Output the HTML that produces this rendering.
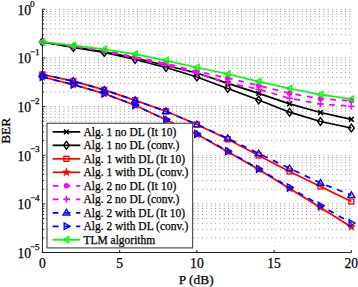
<!DOCTYPE html>
<html><head><meta charset="utf-8"><style>
html,body{margin:0;padding:0;background:#fff;}
svg{display:block;}
text{font-family:"Liberation Serif",serif;fill:#000;stroke:#000;stroke-width:0.25px;}
.tk{font-size:13.6px;}
.sup{font-size:9.2px;}
.lb{font-size:13.4px;}
.lg{font-size:11.5px;}
</style></head><body>
<svg width="358" height="287" viewBox="0 0 358 287">
<rect width="358" height="287" fill="#fff"/>
<line x1="42.45" y1="237.86" x2="351.35" y2="237.86" stroke="#8a8a8a" stroke-width="0.9" stroke-dasharray="1 3.332" stroke-dashoffset="0.7"/>
<line x1="42.45" y1="229.29" x2="351.35" y2="229.29" stroke="#8a8a8a" stroke-width="0.9" stroke-dasharray="1 3.332" stroke-dashoffset="0.7"/>
<line x1="42.45" y1="223.22" x2="351.35" y2="223.22" stroke="#8a8a8a" stroke-width="0.9" stroke-dasharray="1 3.332" stroke-dashoffset="0.7"/>
<line x1="42.45" y1="218.50" x2="351.35" y2="218.50" stroke="#8a8a8a" stroke-width="0.9" stroke-dasharray="1 3.332" stroke-dashoffset="0.7"/>
<line x1="42.45" y1="214.65" x2="351.35" y2="214.65" stroke="#8a8a8a" stroke-width="0.9" stroke-dasharray="1 3.332" stroke-dashoffset="0.7"/>
<line x1="42.45" y1="211.39" x2="351.35" y2="211.39" stroke="#8a8a8a" stroke-width="0.9" stroke-dasharray="1 3.332" stroke-dashoffset="0.7"/>
<line x1="42.45" y1="208.57" x2="351.35" y2="208.57" stroke="#8a8a8a" stroke-width="0.9" stroke-dasharray="1 3.332" stroke-dashoffset="0.7"/>
<line x1="42.45" y1="206.09" x2="351.35" y2="206.09" stroke="#8a8a8a" stroke-width="0.9" stroke-dasharray="1 3.332" stroke-dashoffset="0.7"/>
<line x1="42.45" y1="203.86" x2="351.35" y2="203.86" stroke="#8a8a8a" stroke-width="0.9" stroke-dasharray="1 3.332" stroke-dashoffset="0.7"/>
<line x1="42.45" y1="189.22" x2="351.35" y2="189.22" stroke="#8a8a8a" stroke-width="0.9" stroke-dasharray="1 3.332" stroke-dashoffset="0.7"/>
<line x1="42.45" y1="180.65" x2="351.35" y2="180.65" stroke="#8a8a8a" stroke-width="0.9" stroke-dasharray="1 3.332" stroke-dashoffset="0.7"/>
<line x1="42.45" y1="174.58" x2="351.35" y2="174.58" stroke="#8a8a8a" stroke-width="0.9" stroke-dasharray="1 3.332" stroke-dashoffset="0.7"/>
<line x1="42.45" y1="169.86" x2="351.35" y2="169.86" stroke="#8a8a8a" stroke-width="0.9" stroke-dasharray="1 3.332" stroke-dashoffset="0.7"/>
<line x1="42.45" y1="166.01" x2="351.35" y2="166.01" stroke="#8a8a8a" stroke-width="0.9" stroke-dasharray="1 3.332" stroke-dashoffset="0.7"/>
<line x1="42.45" y1="162.75" x2="351.35" y2="162.75" stroke="#8a8a8a" stroke-width="0.9" stroke-dasharray="1 3.332" stroke-dashoffset="0.7"/>
<line x1="42.45" y1="159.93" x2="351.35" y2="159.93" stroke="#8a8a8a" stroke-width="0.9" stroke-dasharray="1 3.332" stroke-dashoffset="0.7"/>
<line x1="42.45" y1="157.45" x2="351.35" y2="157.45" stroke="#8a8a8a" stroke-width="0.9" stroke-dasharray="1 3.332" stroke-dashoffset="0.7"/>
<line x1="42.45" y1="155.22" x2="351.35" y2="155.22" stroke="#8a8a8a" stroke-width="0.9" stroke-dasharray="1 3.332" stroke-dashoffset="0.7"/>
<line x1="42.45" y1="140.58" x2="351.35" y2="140.58" stroke="#8a8a8a" stroke-width="0.9" stroke-dasharray="1 3.332" stroke-dashoffset="0.7"/>
<line x1="42.45" y1="132.01" x2="351.35" y2="132.01" stroke="#8a8a8a" stroke-width="0.9" stroke-dasharray="1 3.332" stroke-dashoffset="0.7"/>
<line x1="42.45" y1="125.94" x2="351.35" y2="125.94" stroke="#8a8a8a" stroke-width="0.9" stroke-dasharray="1 3.332" stroke-dashoffset="0.7"/>
<line x1="42.45" y1="121.22" x2="351.35" y2="121.22" stroke="#8a8a8a" stroke-width="0.9" stroke-dasharray="1 3.332" stroke-dashoffset="0.7"/>
<line x1="42.45" y1="117.37" x2="351.35" y2="117.37" stroke="#8a8a8a" stroke-width="0.9" stroke-dasharray="1 3.332" stroke-dashoffset="0.7"/>
<line x1="42.45" y1="114.11" x2="351.35" y2="114.11" stroke="#8a8a8a" stroke-width="0.9" stroke-dasharray="1 3.332" stroke-dashoffset="0.7"/>
<line x1="42.45" y1="111.29" x2="351.35" y2="111.29" stroke="#8a8a8a" stroke-width="0.9" stroke-dasharray="1 3.332" stroke-dashoffset="0.7"/>
<line x1="42.45" y1="108.81" x2="351.35" y2="108.81" stroke="#8a8a8a" stroke-width="0.9" stroke-dasharray="1 3.332" stroke-dashoffset="0.7"/>
<line x1="42.45" y1="106.58" x2="351.35" y2="106.58" stroke="#8a8a8a" stroke-width="0.9" stroke-dasharray="1 3.332" stroke-dashoffset="0.7"/>
<line x1="42.45" y1="91.94" x2="351.35" y2="91.94" stroke="#8a8a8a" stroke-width="0.9" stroke-dasharray="1 3.332" stroke-dashoffset="0.7"/>
<line x1="42.45" y1="83.37" x2="351.35" y2="83.37" stroke="#8a8a8a" stroke-width="0.9" stroke-dasharray="1 3.332" stroke-dashoffset="0.7"/>
<line x1="42.45" y1="77.30" x2="351.35" y2="77.30" stroke="#8a8a8a" stroke-width="0.9" stroke-dasharray="1 3.332" stroke-dashoffset="0.7"/>
<line x1="42.45" y1="72.58" x2="351.35" y2="72.58" stroke="#8a8a8a" stroke-width="0.9" stroke-dasharray="1 3.332" stroke-dashoffset="0.7"/>
<line x1="42.45" y1="68.73" x2="351.35" y2="68.73" stroke="#8a8a8a" stroke-width="0.9" stroke-dasharray="1 3.332" stroke-dashoffset="0.7"/>
<line x1="42.45" y1="65.47" x2="351.35" y2="65.47" stroke="#8a8a8a" stroke-width="0.9" stroke-dasharray="1 3.332" stroke-dashoffset="0.7"/>
<line x1="42.45" y1="62.65" x2="351.35" y2="62.65" stroke="#8a8a8a" stroke-width="0.9" stroke-dasharray="1 3.332" stroke-dashoffset="0.7"/>
<line x1="42.45" y1="60.17" x2="351.35" y2="60.17" stroke="#8a8a8a" stroke-width="0.9" stroke-dasharray="1 3.332" stroke-dashoffset="0.7"/>
<line x1="42.45" y1="57.94" x2="351.35" y2="57.94" stroke="#8a8a8a" stroke-width="0.9" stroke-dasharray="1 3.332" stroke-dashoffset="0.7"/>
<line x1="42.45" y1="43.30" x2="351.35" y2="43.30" stroke="#8a8a8a" stroke-width="0.9" stroke-dasharray="1 3.332" stroke-dashoffset="0.7"/>
<line x1="42.45" y1="34.73" x2="351.35" y2="34.73" stroke="#8a8a8a" stroke-width="0.9" stroke-dasharray="1 3.332" stroke-dashoffset="0.7"/>
<line x1="42.45" y1="28.66" x2="351.35" y2="28.66" stroke="#8a8a8a" stroke-width="0.9" stroke-dasharray="1 3.332" stroke-dashoffset="0.7"/>
<line x1="42.45" y1="23.94" x2="351.35" y2="23.94" stroke="#8a8a8a" stroke-width="0.9" stroke-dasharray="1 3.332" stroke-dashoffset="0.7"/>
<line x1="42.45" y1="20.09" x2="351.35" y2="20.09" stroke="#8a8a8a" stroke-width="0.9" stroke-dasharray="1 3.332" stroke-dashoffset="0.7"/>
<line x1="42.45" y1="16.83" x2="351.35" y2="16.83" stroke="#8a8a8a" stroke-width="0.9" stroke-dasharray="1 3.332" stroke-dashoffset="0.7"/>
<line x1="42.45" y1="14.01" x2="351.35" y2="14.01" stroke="#8a8a8a" stroke-width="0.9" stroke-dasharray="1 3.332" stroke-dashoffset="0.7"/>
<line x1="42.45" y1="11.53" x2="351.35" y2="11.53" stroke="#8a8a8a" stroke-width="0.9" stroke-dasharray="1 3.332" stroke-dashoffset="0.7"/>
<line x1="42.45" y1="9.30" x2="351.35" y2="9.30" stroke="#8a8a8a" stroke-width="0.9" stroke-dasharray="1 3.332" stroke-dashoffset="0.7"/>
<line x1="119.67" y1="9.30" x2="119.67" y2="252.50" stroke="#cfcfcf" stroke-width="0.9" stroke-dasharray="1 3.3"/>
<line x1="196.90" y1="9.30" x2="196.90" y2="252.50" stroke="#cfcfcf" stroke-width="0.9" stroke-dasharray="1 3.3"/>
<line x1="274.12" y1="9.30" x2="274.12" y2="252.50" stroke="#cfcfcf" stroke-width="0.9" stroke-dasharray="1 3.3"/>
<line x1="351.35" y1="9.30" x2="351.35" y2="252.50" stroke="#cfcfcf" stroke-width="0.9" stroke-dasharray="1 3.3"/>
<line x1="42.45" y1="9.30" x2="42.45" y2="253.00" stroke="#222" stroke-width="1"/>
<line x1="41.95" y1="252.50" x2="351.35" y2="252.50" stroke="#222" stroke-width="1"/>
<line x1="42.45" y1="252.50" x2="45.25" y2="252.50" stroke="#222" stroke-width="1"/>
<line x1="42.45" y1="237.86" x2="44.15" y2="237.86" stroke="#222" stroke-width="1"/>
<line x1="42.45" y1="229.29" x2="44.15" y2="229.29" stroke="#222" stroke-width="1"/>
<line x1="42.45" y1="223.22" x2="44.15" y2="223.22" stroke="#222" stroke-width="1"/>
<line x1="42.45" y1="218.50" x2="44.15" y2="218.50" stroke="#222" stroke-width="1"/>
<line x1="42.45" y1="214.65" x2="44.15" y2="214.65" stroke="#222" stroke-width="1"/>
<line x1="42.45" y1="211.39" x2="44.15" y2="211.39" stroke="#222" stroke-width="1"/>
<line x1="42.45" y1="208.57" x2="44.15" y2="208.57" stroke="#222" stroke-width="1"/>
<line x1="42.45" y1="206.09" x2="44.15" y2="206.09" stroke="#222" stroke-width="1"/>
<line x1="42.45" y1="203.86" x2="45.25" y2="203.86" stroke="#222" stroke-width="1"/>
<line x1="42.45" y1="189.22" x2="44.15" y2="189.22" stroke="#222" stroke-width="1"/>
<line x1="42.45" y1="180.65" x2="44.15" y2="180.65" stroke="#222" stroke-width="1"/>
<line x1="42.45" y1="174.58" x2="44.15" y2="174.58" stroke="#222" stroke-width="1"/>
<line x1="42.45" y1="169.86" x2="44.15" y2="169.86" stroke="#222" stroke-width="1"/>
<line x1="42.45" y1="166.01" x2="44.15" y2="166.01" stroke="#222" stroke-width="1"/>
<line x1="42.45" y1="162.75" x2="44.15" y2="162.75" stroke="#222" stroke-width="1"/>
<line x1="42.45" y1="159.93" x2="44.15" y2="159.93" stroke="#222" stroke-width="1"/>
<line x1="42.45" y1="157.45" x2="44.15" y2="157.45" stroke="#222" stroke-width="1"/>
<line x1="42.45" y1="155.22" x2="45.25" y2="155.22" stroke="#222" stroke-width="1"/>
<line x1="42.45" y1="140.58" x2="44.15" y2="140.58" stroke="#222" stroke-width="1"/>
<line x1="42.45" y1="132.01" x2="44.15" y2="132.01" stroke="#222" stroke-width="1"/>
<line x1="42.45" y1="125.94" x2="44.15" y2="125.94" stroke="#222" stroke-width="1"/>
<line x1="42.45" y1="121.22" x2="44.15" y2="121.22" stroke="#222" stroke-width="1"/>
<line x1="42.45" y1="117.37" x2="44.15" y2="117.37" stroke="#222" stroke-width="1"/>
<line x1="42.45" y1="114.11" x2="44.15" y2="114.11" stroke="#222" stroke-width="1"/>
<line x1="42.45" y1="111.29" x2="44.15" y2="111.29" stroke="#222" stroke-width="1"/>
<line x1="42.45" y1="108.81" x2="44.15" y2="108.81" stroke="#222" stroke-width="1"/>
<line x1="42.45" y1="106.58" x2="45.25" y2="106.58" stroke="#222" stroke-width="1"/>
<line x1="42.45" y1="91.94" x2="44.15" y2="91.94" stroke="#222" stroke-width="1"/>
<line x1="42.45" y1="83.37" x2="44.15" y2="83.37" stroke="#222" stroke-width="1"/>
<line x1="42.45" y1="77.30" x2="44.15" y2="77.30" stroke="#222" stroke-width="1"/>
<line x1="42.45" y1="72.58" x2="44.15" y2="72.58" stroke="#222" stroke-width="1"/>
<line x1="42.45" y1="68.73" x2="44.15" y2="68.73" stroke="#222" stroke-width="1"/>
<line x1="42.45" y1="65.47" x2="44.15" y2="65.47" stroke="#222" stroke-width="1"/>
<line x1="42.45" y1="62.65" x2="44.15" y2="62.65" stroke="#222" stroke-width="1"/>
<line x1="42.45" y1="60.17" x2="44.15" y2="60.17" stroke="#222" stroke-width="1"/>
<line x1="42.45" y1="57.94" x2="45.25" y2="57.94" stroke="#222" stroke-width="1"/>
<line x1="42.45" y1="43.30" x2="44.15" y2="43.30" stroke="#222" stroke-width="1"/>
<line x1="42.45" y1="34.73" x2="44.15" y2="34.73" stroke="#222" stroke-width="1"/>
<line x1="42.45" y1="28.66" x2="44.15" y2="28.66" stroke="#222" stroke-width="1"/>
<line x1="42.45" y1="23.94" x2="44.15" y2="23.94" stroke="#222" stroke-width="1"/>
<line x1="42.45" y1="20.09" x2="44.15" y2="20.09" stroke="#222" stroke-width="1"/>
<line x1="42.45" y1="16.83" x2="44.15" y2="16.83" stroke="#222" stroke-width="1"/>
<line x1="42.45" y1="14.01" x2="44.15" y2="14.01" stroke="#222" stroke-width="1"/>
<line x1="42.45" y1="11.53" x2="44.15" y2="11.53" stroke="#222" stroke-width="1"/>
<line x1="42.45" y1="9.30" x2="45.25" y2="9.30" stroke="#222" stroke-width="1"/>
<line x1="42.45" y1="252.50" x2="42.45" y2="250.00" stroke="#222" stroke-width="1"/>
<line x1="119.67" y1="252.50" x2="119.67" y2="250.00" stroke="#222" stroke-width="1"/>
<line x1="196.90" y1="252.50" x2="196.90" y2="250.00" stroke="#222" stroke-width="1"/>
<line x1="274.12" y1="252.50" x2="274.12" y2="250.00" stroke="#222" stroke-width="1"/>
<line x1="351.35" y1="252.50" x2="351.35" y2="250.00" stroke="#222" stroke-width="1"/>
<polyline points="42.45,42.00 73.34,47.00 104.23,51.80 135.12,58.00 166.01,65.50 196.90,73.00 227.79,83.30 258.68,93.30 289.57,103.80 320.46,112.50 351.35,119.30" fill="none" stroke="#000" stroke-width="1.75"/>
<path d="M40.05,39.60L44.85,44.40M40.05,44.40L44.85,39.60" stroke="#000" stroke-width="1.55" fill="none"/>
<path d="M70.94,44.60L75.74,49.40M70.94,49.40L75.74,44.60" stroke="#000" stroke-width="1.55" fill="none"/>
<path d="M101.83,49.40L106.63,54.20M101.83,54.20L106.63,49.40" stroke="#000" stroke-width="1.55" fill="none"/>
<path d="M132.72,55.60L137.52,60.40M132.72,60.40L137.52,55.60" stroke="#000" stroke-width="1.55" fill="none"/>
<path d="M163.61,63.10L168.41,67.90M163.61,67.90L168.41,63.10" stroke="#000" stroke-width="1.55" fill="none"/>
<path d="M194.50,70.60L199.30,75.40M194.50,75.40L199.30,70.60" stroke="#000" stroke-width="1.55" fill="none"/>
<path d="M225.39,80.90L230.19,85.70M225.39,85.70L230.19,80.90" stroke="#000" stroke-width="1.55" fill="none"/>
<path d="M256.28,90.90L261.08,95.70M256.28,95.70L261.08,90.90" stroke="#000" stroke-width="1.55" fill="none"/>
<path d="M287.17,101.40L291.97,106.20M287.17,106.20L291.97,101.40" stroke="#000" stroke-width="1.55" fill="none"/>
<path d="M318.06,110.10L322.86,114.90M318.06,114.90L322.86,110.10" stroke="#000" stroke-width="1.55" fill="none"/>
<path d="M348.95,116.90L353.75,121.70M348.95,121.70L353.75,116.90" stroke="#000" stroke-width="1.55" fill="none"/>
<polyline points="42.45,42.00 73.34,47.50 104.23,52.50 135.12,59.50 166.01,67.50 196.90,77.00 227.79,88.50 258.68,100.00 289.57,112.20 320.46,121.50 351.35,128.00" fill="none" stroke="#000" stroke-width="1.75"/>
<path d="M42.45,38.10L45.35,42.00L42.45,45.90L39.55,42.00Z" stroke="#000" stroke-width="1.35" fill="none"/>
<path d="M73.34,43.60L76.24,47.50L73.34,51.40L70.44,47.50Z" stroke="#000" stroke-width="1.35" fill="none"/>
<path d="M104.23,48.60L107.13,52.50L104.23,56.40L101.33,52.50Z" stroke="#000" stroke-width="1.35" fill="none"/>
<path d="M135.12,55.60L138.02,59.50L135.12,63.40L132.22,59.50Z" stroke="#000" stroke-width="1.35" fill="none"/>
<path d="M166.01,63.60L168.91,67.50L166.01,71.40L163.11,67.50Z" stroke="#000" stroke-width="1.35" fill="none"/>
<path d="M196.90,73.10L199.80,77.00L196.90,80.90L194.00,77.00Z" stroke="#000" stroke-width="1.35" fill="none"/>
<path d="M227.79,84.60L230.69,88.50L227.79,92.40L224.89,88.50Z" stroke="#000" stroke-width="1.35" fill="none"/>
<path d="M258.68,96.10L261.58,100.00L258.68,103.90L255.78,100.00Z" stroke="#000" stroke-width="1.35" fill="none"/>
<path d="M289.57,108.30L292.47,112.20L289.57,116.10L286.67,112.20Z" stroke="#000" stroke-width="1.35" fill="none"/>
<path d="M320.46,117.60L323.36,121.50L320.46,125.40L317.56,121.50Z" stroke="#000" stroke-width="1.35" fill="none"/>
<path d="M351.35,124.10L354.25,128.00L351.35,131.90L348.45,128.00Z" stroke="#000" stroke-width="1.35" fill="none"/>
<polyline points="42.45,74.50 73.34,81.10 104.23,89.90 135.12,100.30 166.01,111.30 196.90,124.50 227.79,139.30 258.68,155.50 289.57,171.50 320.46,186.50 351.35,201.50" fill="none" stroke="#f00" stroke-width="1.75"/>
<rect x="39.95" y="72.00" width="5.00" height="5.00" stroke="#f00" stroke-width="1.35" fill="none"/>
<rect x="70.84" y="78.60" width="5.00" height="5.00" stroke="#f00" stroke-width="1.35" fill="none"/>
<rect x="101.73" y="87.40" width="5.00" height="5.00" stroke="#f00" stroke-width="1.35" fill="none"/>
<rect x="132.62" y="97.80" width="5.00" height="5.00" stroke="#f00" stroke-width="1.35" fill="none"/>
<rect x="163.51" y="108.80" width="5.00" height="5.00" stroke="#f00" stroke-width="1.35" fill="none"/>
<rect x="194.40" y="122.00" width="5.00" height="5.00" stroke="#f00" stroke-width="1.35" fill="none"/>
<rect x="225.29" y="136.80" width="5.00" height="5.00" stroke="#f00" stroke-width="1.35" fill="none"/>
<rect x="256.18" y="153.00" width="5.00" height="5.00" stroke="#f00" stroke-width="1.35" fill="none"/>
<rect x="287.07" y="169.00" width="5.00" height="5.00" stroke="#f00" stroke-width="1.35" fill="none"/>
<rect x="317.96" y="184.00" width="5.00" height="5.00" stroke="#f00" stroke-width="1.35" fill="none"/>
<rect x="348.85" y="199.00" width="5.00" height="5.00" stroke="#f00" stroke-width="1.35" fill="none"/>
<polyline points="42.45,77.00 73.34,84.70 104.23,93.60 135.12,105.20 166.01,119.70 196.90,134.20 227.79,151.70 258.68,169.50 289.57,188.50 320.46,207.50 351.35,226.90" fill="none" stroke="#f00" stroke-width="1.75"/>
<polygon points="42.45,72.80 43.45,75.62 46.44,75.70 44.07,77.53 44.92,80.40 42.45,78.70 39.98,80.40 40.83,77.53 38.46,75.70 41.45,75.62" fill="#f00" stroke="#f00" stroke-width="0.6"/>
<polygon points="73.34,80.50 74.34,83.32 77.33,83.40 74.96,85.23 75.81,88.10 73.34,86.40 70.87,88.10 71.72,85.23 69.35,83.40 72.34,83.32" fill="#f00" stroke="#f00" stroke-width="0.6"/>
<polygon points="104.23,89.40 105.23,92.22 108.22,92.30 105.85,94.13 106.70,97.00 104.23,95.30 101.76,97.00 102.61,94.13 100.24,92.30 103.23,92.22" fill="#f00" stroke="#f00" stroke-width="0.6"/>
<polygon points="135.12,101.00 136.12,103.82 139.11,103.90 136.74,105.73 137.59,108.60 135.12,106.90 132.65,108.60 133.50,105.73 131.13,103.90 134.12,103.82" fill="#f00" stroke="#f00" stroke-width="0.6"/>
<polygon points="166.01,115.50 167.01,118.32 170.00,118.40 167.63,120.23 168.48,123.10 166.01,121.40 163.54,123.10 164.39,120.23 162.02,118.40 165.01,118.32" fill="#f00" stroke="#f00" stroke-width="0.6"/>
<polygon points="196.90,130.00 197.90,132.82 200.89,132.90 198.52,134.73 199.37,137.60 196.90,135.90 194.43,137.60 195.28,134.73 192.91,132.90 195.90,132.82" fill="#f00" stroke="#f00" stroke-width="0.6"/>
<polygon points="227.79,147.50 228.79,150.32 231.78,150.40 229.41,152.23 230.26,155.10 227.79,153.40 225.32,155.10 226.17,152.23 223.80,150.40 226.79,150.32" fill="#f00" stroke="#f00" stroke-width="0.6"/>
<polygon points="258.68,165.30 259.68,168.12 262.67,168.20 260.30,170.03 261.15,172.90 258.68,171.20 256.21,172.90 257.06,170.03 254.69,168.20 257.68,168.12" fill="#f00" stroke="#f00" stroke-width="0.6"/>
<polygon points="289.57,184.30 290.57,187.12 293.56,187.20 291.19,189.03 292.04,191.90 289.57,190.20 287.10,191.90 287.95,189.03 285.58,187.20 288.57,187.12" fill="#f00" stroke="#f00" stroke-width="0.6"/>
<polygon points="320.46,203.30 321.46,206.12 324.45,206.20 322.08,208.03 322.93,210.90 320.46,209.20 317.99,210.90 318.84,208.03 316.47,206.20 319.46,206.12" fill="#f00" stroke="#f00" stroke-width="0.6"/>
<polygon points="351.35,222.70 352.35,225.52 355.34,225.60 352.97,227.43 353.82,230.30 351.35,228.60 348.88,230.30 349.73,227.43 347.36,225.60 350.35,225.52" fill="#f00" stroke="#f00" stroke-width="0.6"/>
<polyline points="42.45,42.00 73.34,46.30 104.23,50.50 135.12,57.00 166.01,63.50 196.90,71.50 227.79,78.00 258.68,85.50 289.57,93.30 320.46,98.70 351.35,100.80" fill="none" stroke="#f0f" stroke-width="1.75" stroke-dasharray="5.9 5.85"/>
<circle cx="42.45" cy="42.00" r="2.7" fill="#f0f"/>
<circle cx="73.34" cy="46.30" r="2.7" fill="#f0f"/>
<circle cx="104.23" cy="50.50" r="2.7" fill="#f0f"/>
<circle cx="135.12" cy="57.00" r="2.7" fill="#f0f"/>
<circle cx="166.01" cy="63.50" r="2.7" fill="#f0f"/>
<circle cx="196.90" cy="71.50" r="2.7" fill="#f0f"/>
<circle cx="227.79" cy="78.00" r="2.7" fill="#f0f"/>
<circle cx="258.68" cy="85.50" r="2.7" fill="#f0f"/>
<circle cx="289.57" cy="93.30" r="2.7" fill="#f0f"/>
<circle cx="320.46" cy="98.70" r="2.7" fill="#f0f"/>
<circle cx="351.35" cy="100.80" r="2.7" fill="#f0f"/>
<polyline points="42.45,42.00 73.34,46.60 104.23,51.00 135.12,58.00 166.01,65.30 196.90,73.50 227.79,83.00 258.68,89.20 289.57,98.30 320.46,104.00 351.35,106.20" fill="none" stroke="#f0f" stroke-width="1.75" stroke-dasharray="5.9 5.85"/>
<path d="M39.25,42.00L45.65,42.00M42.45,38.80L42.45,45.20" stroke="#f0f" stroke-width="1.55" fill="none"/>
<path d="M70.14,46.60L76.54,46.60M73.34,43.40L73.34,49.80" stroke="#f0f" stroke-width="1.55" fill="none"/>
<path d="M101.03,51.00L107.43,51.00M104.23,47.80L104.23,54.20" stroke="#f0f" stroke-width="1.55" fill="none"/>
<path d="M131.92,58.00L138.32,58.00M135.12,54.80L135.12,61.20" stroke="#f0f" stroke-width="1.55" fill="none"/>
<path d="M162.81,65.30L169.21,65.30M166.01,62.10L166.01,68.50" stroke="#f0f" stroke-width="1.55" fill="none"/>
<path d="M193.70,73.50L200.10,73.50M196.90,70.30L196.90,76.70" stroke="#f0f" stroke-width="1.55" fill="none"/>
<path d="M224.59,83.00L230.99,83.00M227.79,79.80L227.79,86.20" stroke="#f0f" stroke-width="1.55" fill="none"/>
<path d="M255.48,89.20L261.88,89.20M258.68,86.00L258.68,92.40" stroke="#f0f" stroke-width="1.55" fill="none"/>
<path d="M286.37,98.30L292.77,98.30M289.57,95.10L289.57,101.50" stroke="#f0f" stroke-width="1.55" fill="none"/>
<path d="M317.26,104.00L323.66,104.00M320.46,100.80L320.46,107.20" stroke="#f0f" stroke-width="1.55" fill="none"/>
<path d="M348.15,106.20L354.55,106.20M351.35,103.00L351.35,109.40" stroke="#f0f" stroke-width="1.55" fill="none"/>
<polyline points="42.45,74.50 73.34,81.10 104.23,89.90 135.12,100.30 166.01,111.30 196.90,124.50 227.79,138.30 258.68,153.50 289.57,168.40 320.46,183.00 351.35,195.20" fill="none" stroke="#00f" stroke-width="1.75" stroke-dasharray="5.9 5.85"/>
<path d="M42.45,71.10L45.85,76.70L39.05,76.70Z" stroke="#00f" stroke-width="1.35" fill="none" stroke-linejoin="miter"/>
<path d="M73.34,77.70L76.74,83.30L69.94,83.30Z" stroke="#00f" stroke-width="1.35" fill="none" stroke-linejoin="miter"/>
<path d="M104.23,86.50L107.63,92.10L100.83,92.10Z" stroke="#00f" stroke-width="1.35" fill="none" stroke-linejoin="miter"/>
<path d="M135.12,96.90L138.52,102.50L131.72,102.50Z" stroke="#00f" stroke-width="1.35" fill="none" stroke-linejoin="miter"/>
<path d="M166.01,107.90L169.41,113.50L162.61,113.50Z" stroke="#00f" stroke-width="1.35" fill="none" stroke-linejoin="miter"/>
<path d="M196.90,121.10L200.30,126.70L193.50,126.70Z" stroke="#00f" stroke-width="1.35" fill="none" stroke-linejoin="miter"/>
<path d="M227.79,134.90L231.19,140.50L224.39,140.50Z" stroke="#00f" stroke-width="1.35" fill="none" stroke-linejoin="miter"/>
<path d="M258.68,150.10L262.08,155.70L255.28,155.70Z" stroke="#00f" stroke-width="1.35" fill="none" stroke-linejoin="miter"/>
<path d="M289.57,165.00L292.97,170.60L286.17,170.60Z" stroke="#00f" stroke-width="1.35" fill="none" stroke-linejoin="miter"/>
<path d="M320.46,179.60L323.86,185.20L317.06,185.20Z" stroke="#00f" stroke-width="1.35" fill="none" stroke-linejoin="miter"/>
<path d="M351.35,191.80L354.75,197.40L347.95,197.40Z" stroke="#00f" stroke-width="1.35" fill="none" stroke-linejoin="miter"/>
<polyline points="42.45,77.00 73.34,84.70 104.23,93.60 135.12,105.20 166.01,119.70 196.90,133.90 227.79,151.20 258.68,168.90 289.57,187.40 320.46,205.50 351.35,223.10" fill="none" stroke="#00f" stroke-width="1.75" stroke-dasharray="5.9 5.85"/>
<path d="M46.05,77.00L40.25,73.60L40.25,80.40Z" stroke="#00f" stroke-width="1.35" fill="none"/>
<path d="M76.94,84.70L71.14,81.30L71.14,88.10Z" stroke="#00f" stroke-width="1.35" fill="none"/>
<path d="M107.83,93.60L102.03,90.20L102.03,97.00Z" stroke="#00f" stroke-width="1.35" fill="none"/>
<path d="M138.72,105.20L132.92,101.80L132.92,108.60Z" stroke="#00f" stroke-width="1.35" fill="none"/>
<path d="M169.61,119.70L163.81,116.30L163.81,123.10Z" stroke="#00f" stroke-width="1.35" fill="none"/>
<path d="M200.50,133.90L194.70,130.50L194.70,137.30Z" stroke="#00f" stroke-width="1.35" fill="none"/>
<path d="M231.39,151.20L225.59,147.80L225.59,154.60Z" stroke="#00f" stroke-width="1.35" fill="none"/>
<path d="M262.28,168.90L256.48,165.50L256.48,172.30Z" stroke="#00f" stroke-width="1.35" fill="none"/>
<path d="M293.17,187.40L287.37,184.00L287.37,190.80Z" stroke="#00f" stroke-width="1.35" fill="none"/>
<path d="M324.06,205.50L318.26,202.10L318.26,208.90Z" stroke="#00f" stroke-width="1.35" fill="none"/>
<path d="M354.95,223.10L349.15,219.70L349.15,226.50Z" stroke="#00f" stroke-width="1.35" fill="none"/>
<polyline points="42.45,42.00 73.34,45.40 104.23,49.30 135.12,54.10 166.01,60.60 196.90,67.50 227.79,74.00 258.68,81.60 289.57,88.50 320.46,94.60 351.35,99.00" fill="none" stroke="#0f0" stroke-width="1.75"/>
<path d="M39.25,42.00L44.65,38.90L44.65,45.10Z" stroke="#0f0" stroke-width="1.35" fill="none"/>
<path d="M70.14,45.40L75.54,42.30L75.54,48.50Z" stroke="#0f0" stroke-width="1.35" fill="none"/>
<path d="M101.03,49.30L106.43,46.20L106.43,52.40Z" stroke="#0f0" stroke-width="1.35" fill="none"/>
<path d="M131.92,54.10L137.32,51.00L137.32,57.20Z" stroke="#0f0" stroke-width="1.35" fill="none"/>
<path d="M162.81,60.60L168.21,57.50L168.21,63.70Z" stroke="#0f0" stroke-width="1.35" fill="none"/>
<path d="M193.70,67.50L199.10,64.40L199.10,70.60Z" stroke="#0f0" stroke-width="1.35" fill="none"/>
<path d="M224.59,74.00L229.99,70.90L229.99,77.10Z" stroke="#0f0" stroke-width="1.35" fill="none"/>
<path d="M255.48,81.60L260.88,78.50L260.88,84.70Z" stroke="#0f0" stroke-width="1.35" fill="none"/>
<path d="M286.37,88.50L291.77,85.40L291.77,91.60Z" stroke="#0f0" stroke-width="1.35" fill="none"/>
<path d="M317.26,94.60L322.66,91.50L322.66,97.70Z" stroke="#0f0" stroke-width="1.35" fill="none"/>
<path d="M348.15,99.00L353.55,95.90L353.55,102.10Z" stroke="#0f0" stroke-width="1.35" fill="none"/>
<rect x="47.00" y="123.30" width="145.60" height="124.60" fill="#fff" stroke="#555" stroke-width="1.2"/>
<line x1="52.6" y1="131.85" x2="80.3" y2="131.85" stroke="#000" stroke-width="1.75"/>
<path d="M64.00,129.45L68.80,134.25M64.00,134.25L68.80,129.45" stroke="#000" stroke-width="1.55" fill="none"/>
<text x="83.4" y="135.85" class="lg">Alg. 1 no DL (It 10)</text>
<line x1="52.6" y1="145.34" x2="80.3" y2="145.34" stroke="#000" stroke-width="1.75"/>
<path d="M66.40,141.44L69.30,145.34L66.40,149.24L63.50,145.34Z" stroke="#000" stroke-width="1.35" fill="none"/>
<text x="83.4" y="149.34" class="lg">Alg. 1 no DL (conv.)</text>
<line x1="52.6" y1="158.83" x2="80.3" y2="158.83" stroke="#f00" stroke-width="1.75"/>
<rect x="63.90" y="156.33" width="5.00" height="5.00" stroke="#f00" stroke-width="1.35" fill="none"/>
<text x="83.4" y="162.83" class="lg">Alg. 1 with DL (It 10)</text>
<line x1="52.6" y1="172.32" x2="80.3" y2="172.32" stroke="#f00" stroke-width="1.75"/>
<polygon points="66.40,168.12 67.40,170.94 70.39,171.02 68.02,172.85 68.87,175.72 66.40,174.02 63.93,175.72 64.78,172.85 62.41,171.02 65.40,170.94" fill="#f00" stroke="#f00" stroke-width="0.6"/>
<text x="83.4" y="176.32" class="lg">Alg. 1 with DL (conv.)</text>
<line x1="52.6" y1="185.81" x2="80.3" y2="185.81" stroke="#f0f" stroke-width="1.75" stroke-dasharray="5.9 5.85"/>
<circle cx="66.40" cy="185.81" r="2.7" fill="#f0f"/>
<text x="83.4" y="189.81" class="lg">Alg. 2 no DL (It 10)</text>
<line x1="52.6" y1="199.30" x2="80.3" y2="199.30" stroke="#f0f" stroke-width="1.75" stroke-dasharray="5.9 5.85"/>
<path d="M63.20,199.30L69.60,199.30M66.40,196.10L66.40,202.50" stroke="#f0f" stroke-width="1.55" fill="none"/>
<text x="83.4" y="203.30" class="lg">Alg. 2 no DL (conv.)</text>
<line x1="52.6" y1="212.79" x2="80.3" y2="212.79" stroke="#00f" stroke-width="1.75" stroke-dasharray="5.9 5.85"/>
<path d="M66.40,209.39L69.80,214.99L63.00,214.99Z" stroke="#00f" stroke-width="1.35" fill="none" stroke-linejoin="miter"/>
<text x="83.4" y="216.79" class="lg">Alg. 2 with DL (It 10)</text>
<line x1="52.6" y1="226.28" x2="80.3" y2="226.28" stroke="#00f" stroke-width="1.75" stroke-dasharray="5.9 5.85"/>
<path d="M70.00,226.28L64.20,222.88L64.20,229.68Z" stroke="#00f" stroke-width="1.35" fill="none"/>
<text x="83.4" y="230.28" class="lg">Alg. 2 with DL (conv.)</text>
<line x1="52.6" y1="239.77" x2="80.3" y2="239.77" stroke="#0f0" stroke-width="1.75"/>
<path d="M63.20,239.77L68.60,236.67L68.60,242.87Z" stroke="#0f0" stroke-width="1.35" fill="none"/>
<text x="83.4" y="243.77" class="lg">TLM algorithm</text>
<text x="42.45" y="268.4" class="tk" text-anchor="middle">0</text>
<text x="119.67" y="268.4" class="tk" text-anchor="middle">5</text>
<text x="196.90" y="268.4" class="tk" text-anchor="middle">10</text>
<text x="274.12" y="268.4" class="tk" text-anchor="middle">15</text>
<text x="351.35" y="268.4" class="tk" text-anchor="middle">20</text>
<text x="17.4" y="258.00" class="tk">10</text>
<text x="29.9" y="249.70" class="sup">−5</text>
<text x="17.4" y="209.36" class="tk">10</text>
<text x="29.9" y="201.06" class="sup">−4</text>
<text x="17.4" y="160.72" class="tk">10</text>
<text x="29.9" y="152.42" class="sup">−3</text>
<text x="17.4" y="112.08" class="tk">10</text>
<text x="29.9" y="103.78" class="sup">−2</text>
<text x="17.4" y="63.44" class="tk">10</text>
<text x="29.9" y="55.14" class="sup">−1</text>
<text x="17.4" y="14.80" class="tk">10</text>
<text x="29.9" y="6.50" class="sup">0</text>
<text x="196.2" y="284.3" class="lb" text-anchor="middle">P (dB)</text>
<text transform="translate(9.9,130.8) rotate(-90)" class="lb" text-anchor="middle">BER</text>
</svg>
</body></html>
